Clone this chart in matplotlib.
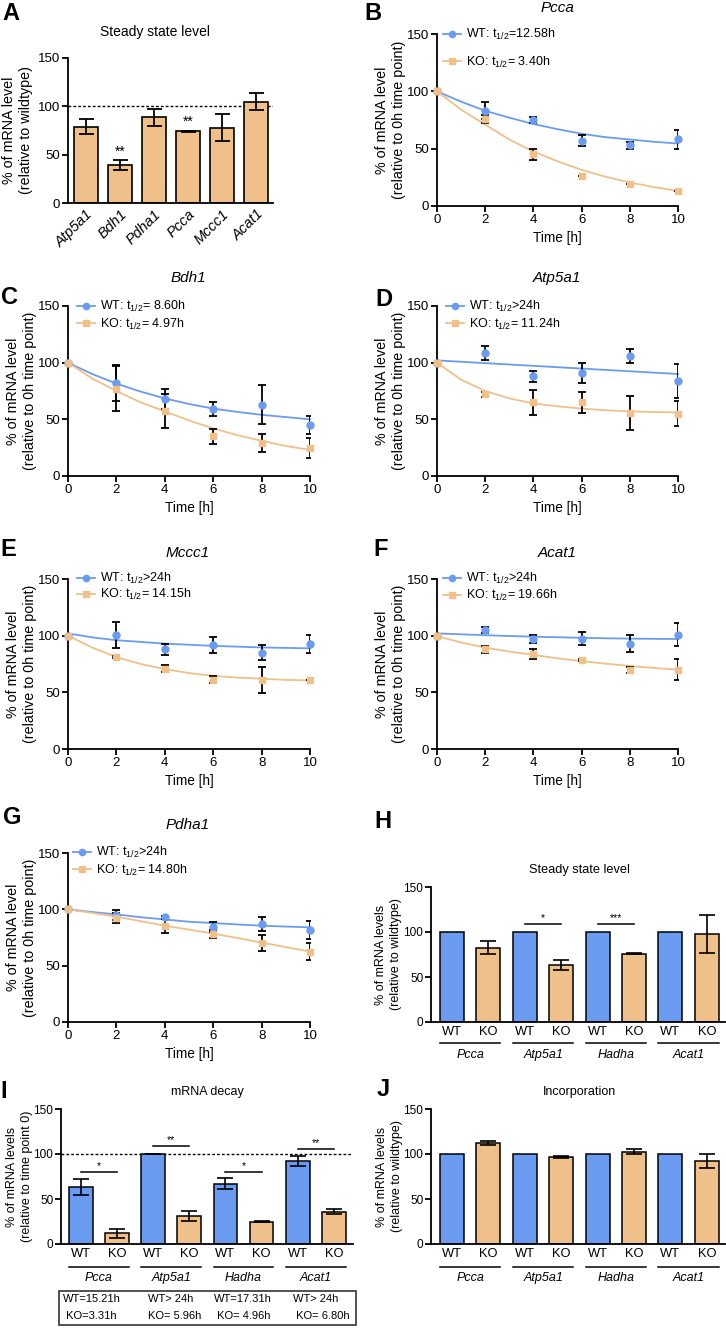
import matplotlib
matplotlib.use('Agg')
import matplotlib.pyplot as plt
from matplotlib.lines import Line2D
from matplotlib.patches import Rectangle

plt.rcParams['font.family'] = 'Liberation Sans'
plt.rcParams['mathtext.fontset'] = 'custom'
plt.rcParams['mathtext.rm'] = 'Liberation Sans'
plt.rcParams['mathtext.it'] = 'Liberation Sans:italic'
plt.rcParams['mathtext.default'] = 'regular'

BLUE = '#6b9bf0'
ORANGE = '#f0c08a'

# A: steady state level (KO relative to wildtype)
steady_genes = ['Atp5a1', 'Bdh1', 'Pdha1', 'Pcca', 'Mccc1', 'Acat1']
steady_mean = [79, 39, 88.5, 74, 78, 105]
steady_err = [7.5, 5, 8.5, 1, 14, 9]
steady_sig = ['', '**', '', '**', '', '']

# B-G: decay time courses
time_h = [0, 2, 4, 6, 8, 10]
fit_h = [0, 1, 2, 3, 4, 5, 6, 7, 8, 9, 10]

pcca_wt = [100, 83, 75, 57, 53, 58]
pcca_wt_err = [0, 7.5, 3, 4.5, 3, 8]
pcca_ko = [100, 76, 45, 26.5, 19.5, 13]
pcca_ko_err = [0, 3.5, 4.5, 0, 0, 0]
pcca_wt_fit = [100, 91, 83, 77, 71.5, 67, 63, 60, 58, 56, 54.5]
pcca_ko_fit = [100, 84, 71, 58, 47.5, 39, 31.5, 25.5, 20.5, 16.5, 13]

bdh1_wt = [100, 82, 68, 59, 63, 45]
bdh1_wt_err = [0, 16, 9, 6, 17, 8]
bdh1_ko = [100, 77, 57, 35, 29, 24.5]
bdh1_ko_err = [0, 20, 15, 6.5, 8, 9]
bdh1_wt_fit = [100, 90, 81.5, 74.5, 68.5, 63.5, 59.5, 56.5, 54, 52, 50]
bdh1_ko_fit = [100, 86, 75, 65, 57, 49, 42, 36, 31, 26.5, 23]

atp_wt = [100, 108.5, 88, 91, 106, 84]
atp_wt_err = [0, 6, 5, 9, 6.5, 15]
atp_ko = [100, 72, 65, 65, 55.5, 55]
atp_ko_err = [0, 2, 11, 9, 15, 11]
atp_wt_fit = [102, 100.8, 99.6, 98.4, 97.2, 96, 94.8, 93.6, 92.4, 91.2, 90]
atp_ko_fit = [100, 85, 75, 68.5, 64, 61.5, 59.5, 58, 57, 56.5, 56]

mccc_wt = [100, 100.5, 88, 92, 85, 93]
mccc_wt_err = [0, 11.5, 5, 7, 6.5, 8]
mccc_ko = [100, 81, 71, 61, 61, 61]
mccc_ko_err = [0, 1, 3, 3, 11.5, 0]
mccc_wt_fit = [102, 98.5, 96, 94.5, 93, 92, 91, 90.3, 89.6, 89.2, 88.8]
mccc_ko_fit = [100, 89.5, 81, 75, 70.5, 67, 64.5, 63, 62, 61, 60.5]

acat_wt = [100, 105, 97, 97.5, 93, 101]
acat_wt_err = [0, 3, 3.5, 6, 7.5, 10]
acat_ko = [100, 88, 84, 78.5, 70, 70]
acat_ko_err = [0, 3, 4.5, 1, 2.5, 9.5]
acat_wt_fit = [102, 101.2, 100.4, 99.7, 99.1, 98.6, 98.1, 97.7, 97.4, 97.2, 97]
acat_ko_fit = [99.5, 94, 89.5, 86, 83, 80, 77.5, 75.3, 73.3, 71.5, 70]

pdha_wt = [100, 95, 93, 84, 87, 82]
pdha_wt_err = [0, 4.5, 1.5, 4.5, 6.5, 8]
pdha_ko = [100, 92, 85, 78.5, 70, 62.5]
pdha_ko_err = [0, 4.5, 6, 3.5, 7, 7.5]
pdha_wt_fit = [100, 97.6, 95.5, 93, 91, 89, 87.8, 86.6, 85.5, 84.7, 84]
pdha_ko_fit = [100, 96.8, 93.5, 89.5, 85.5, 82, 78.5, 74.5, 70.5, 66.5, 62.5]

# H-J: paired WT / KO bars
pair_genes = ['Pcca', 'Atp5a1', 'Hadha', 'Acat1']
pair_ticks = ['WT', 'KO'] * 4

steady_wt = [100, 100, 100, 100]
steady_ko = [82.5, 63, 76, 98]
steady_ko_err = [7, 5.5, 0.5, 21]
steady_pair_sig = ['', '*', '***', '']
steady_pair_sig_y = [0, 109, 109, 0]

decay_wt = [63.5, 100, 67, 92.5]
decay_wt_err = [8.5, 0.5, 6, 5.5]
decay_ko = [12, 31, 25, 36]
decay_ko_err = [5, 5.5, 1, 2.5]
decay_sig = ['*', '**', '*', '**']
decay_sig_y = [80.5, 109, 80.5, 106]
decay_wt_half = ['WT=15.21h', 'WT> 24h', 'WT=17.31h', 'WT> 24h']
decay_ko_half = [' KO=3.31h', 'KO= 5.96h', ' KO= 4.96h', ' KO= 6.80h']

incorp_wt = [100, 100, 100, 100]
incorp_ko = [112, 97, 102.5, 92.5]
incorp_ko_err = [2.5, 1, 3, 7.5]

W, H = 726, 1328
fig = plt.figure(figsize=(W / 100, H / 100), dpi=100)


def px_axes(l, t, r, b):
    return fig.add_axes([l / W, 1 - b / H, (r - l) / W, (b - t) / H])


def style(ax, size=9.5):
    for s in ['top', 'right']:
        ax.spines[s].set_visible(False)
    for s in ['left', 'bottom']:
        ax.spines[s].set_linewidth(1.3)
    ax.tick_params(direction='out', length=4, width=1.3, labelsize=size, pad=1.5)
    ax.set_ylim(0, 150)
    ax.set_yticks([0, 50, 100, 150])


def ylab(ax, text, off_px, size):
    ax.set_ylabel(text, fontsize=size, linespacing=1.3)
    w = ax.get_position().width * W
    ax.yaxis.set_label_coords(-off_px / w, 0.5)


def ftext(x, y, s, **kw):
    fig.text(x / W, 1 - y / H, s, **kw)


def decay(ax, wt, wt_err, ko, ko_err, wt_fit, ko_fit, labels, leg):
    style(ax)
    ax.plot(fit_h, wt_fit, color=BLUE, lw=1.3, clip_on=False)
    ax.plot(fit_h, ko_fit, color=ORANGE, lw=1.3, clip_on=False)
    ax.errorbar(time_h, wt, yerr=wt_err, fmt='none', ecolor='black',
                elinewidth=1.3, capsize=3, capthick=1.3)
    ax.errorbar(time_h, ko, yerr=ko_err, fmt='none', ecolor='black',
                elinewidth=1.3, capsize=3, capthick=1.3)
    ax.plot(time_h, wt, 'o', color=BLUE, ms=5, clip_on=False, zorder=4)
    ax.plot(time_h, ko, 's', color=ORANGE, ms=4.8, clip_on=False, zorder=4)
    ax.set_xlim(0, 10)
    ax.set_xticks([0, 2, 4, 6, 8, 10])
    ax.set_xlabel('Time [h]', fontsize=9.8)
    h = ax.get_position().height * H
    ax.xaxis.set_label_coords(0.5, -25 / h)
    ylab(ax, '% of mRNA level\n(relative to 0h time point)', 31, 10.3)
    hl, row1, sp = leg
    handles = [Line2D([], [], color=BLUE, marker='o', ms=4.5, lw=1.3),
               Line2D([], [], color=ORANGE, marker='s', ms=4.3, lw=1.3)]
    ax.legend(handles, labels, loc='upper left', frameon=False, fontsize=9,
              bbox_to_anchor=(hl / W, 1 - (row1 - 8) / H),
              bbox_transform=fig.transFigure, borderpad=0, borderaxespad=0,
              handlelength=1.4, handletextpad=0.45, labelspacing=sp)


def paired(ax, wt, wt_err, ko, ko_err, line_px, name_px):
    style(ax, size=8.5)
    xw = [0, 2, 4, 6]
    xk = [1, 3, 5, 7]
    ax.bar(xw, wt, 0.66, color=BLUE, edgecolor='black', lw=1.1, zorder=2)
    ax.bar(xk, ko, 0.66, color=ORANGE, edgecolor='black', lw=1.1, zorder=2)
    if wt_err is not None:
        ax.errorbar(xw, wt, yerr=wt_err, fmt='none', ecolor='black',
                    elinewidth=1.2, capsize=6, capthick=1.2, zorder=3)
    ax.errorbar(xk, ko, yerr=ko_err, fmt='none', ecolor='black',
                elinewidth=1.2, capsize=6, capthick=1.2, zorder=3)
    ax.set_xticks(range(8))
    ax.set_xticklabels(pair_ticks, fontsize=9.3)
    ax.tick_params(axis='x', length=0, pad=3)
    pos = ax.get_position()
    bot = (1 - pos.y0) * H
    hpx = pos.height * H
    tr = ax.get_xaxis_transform()
    for i, g in enumerate(pair_genes):
        ax.plot([2 * i - 0.33, 2 * i + 1.33], [-(line_px - bot) / hpx] * 2,
                color='black', lw=1.1, transform=tr, clip_on=False)
        ax.text(2 * i + 0.5, -(name_px - bot) / hpx, g, transform=tr,
                ha='center', va='center', fontsize=9, style='italic')


def sig_bars(ax, sig, sig_y):
    for i, (s, y) in enumerate(zip(sig, sig_y)):
        if not s:
            continue
        ax.plot([2 * i, 2 * i + 1], [y, y], color='black', lw=1.1)
        ax.text(2 * i + 0.5, y + 0.5, s, ha='center', va='bottom', fontsize=7.5)


# ---- A ----
axA = px_axes(68, 58, 273, 203)
style(axA)
xa = list(range(len(steady_genes)))
axA.bar(xa, steady_mean, 0.68, color=ORANGE, edgecolor='black', lw=1.2, zorder=2)
axA.errorbar(xa, steady_mean, yerr=steady_err, fmt='none', ecolor='black',
             elinewidth=1.3, capsize=5.4, capthick=1.3, zorder=3)
for x, m, e, s in zip(xa, steady_mean, steady_err, steady_sig):
    if s:
        axA.text(x, m + e + 1.5, s, ha='center', va='bottom', fontsize=10)
axA.axhline(100, color='black', lw=1, ls=(0, (2, 1.5)), zorder=1)
axA.set_xlim(-0.53, 5.5)
axA.set_xticks(xa)
axA.set_xticklabels(steady_genes, rotation=45, ha='right', rotation_mode='anchor',
                    style='italic', fontsize=10.5)
axA.tick_params(axis='x', length=0, pad=3)
ylab(axA, '% of mRNA level\n(relative to wildtype)', 35, 10.3)
ftext(155, 32, 'Steady state level', ha='center', va='center', fontsize=10)

# ---- B-G ----
decay(px_axes(437, 34, 678, 206), pcca_wt, pcca_wt_err, pcca_ko, pcca_ko_err,
      pcca_wt_fit, pcca_ko_fit,
      ['WT: t$_{1/2}$=12.58h', 'KO: t$_{1/2}$= 3.40h'], (443, 35, 1.0))
decay(px_axes(68, 306, 310, 476), bdh1_wt, bdh1_wt_err, bdh1_ko, bdh1_ko_err,
      bdh1_wt_fit, bdh1_ko_fit,
      ['WT: t$_{1/2}$= 8.60h', 'KO: t$_{1/2}$= 4.97h'], (77, 307, 0.2))
decay(px_axes(437, 306, 678, 476), atp_wt, atp_wt_err, atp_ko, atp_ko_err,
      atp_wt_fit, atp_ko_fit,
      ['WT: t$_{1/2}$>24h', 'KO: t$_{1/2}$= 11.24h'], (446, 307, 0.2))
decay(px_axes(68, 579, 310, 749), mccc_wt, mccc_wt_err, mccc_ko, mccc_ko_err,
      mccc_wt_fit, mccc_ko_fit,
      ['WT: t$_{1/2}$>24h', 'KO: t$_{1/2}$= 14.15h'], (77, 579, 0.1))
decay(px_axes(437, 579, 678, 749), acat_wt, acat_wt_err, acat_ko, acat_ko_err,
      acat_wt_fit, acat_ko_fit,
      ['WT: t$_{1/2}$>24h', 'KO: t$_{1/2}$= 19.66h'], (443, 579, 0.15))
decay(px_axes(68, 853, 310, 1022), pdha_wt, pdha_wt_err, pdha_ko, pdha_ko_err,
      pdha_wt_fit, pdha_ko_fit,
      ['WT: t$_{1/2}$>24h', 'KO: t$_{1/2}$= 14.80h'], (73, 853, 0.2))

for x, y, s in [(557, 8, 'Pcca'), (188, 278, 'Bdh1'), (557, 278, 'Atp5a1'),
                (188, 553, 'Mccc1'), (557, 553, 'Acat1'), (188, 825, 'Pdha1')]:
    ftext(x, y, s, ha='center', va='center', fontsize=11, style='italic')

# ---- H ----
axH = px_axes(431, 887, 725, 1022)
paired(axH, steady_wt, None, steady_ko, steady_ko_err, 1043, 1055)
sig_bars(axH, steady_pair_sig, steady_pair_sig_y)
axH.set_xlim(-0.58, 7.5)
ylab(axH, '% of mRNA levels\n(relative to wildtype)', 29, 9)
ftext(579, 870, 'Steady state level', ha='center', va='center', fontsize=9.2)

# ---- I ----
axI = px_axes(61, 1109, 353, 1244)
paired(axI, decay_wt, decay_wt_err, decay_ko, decay_ko_err, 1267, 1278)
sig_bars(axI, decay_sig, decay_sig_y)
axI.axhline(100, color='black', lw=1, ls=(0, (2, 1.5)), zorder=1)
axI.set_xlim(-0.55, 7.53)
ylab(axI, '% of mRNA levels\n(relative to time point 0)', 28, 9)
ftext(207, 1092, 'mRNA decay', ha='center', va='center', fontsize=9)
fig.patches.append(Rectangle((59 / W, 1 - 1325 / H), 297 / W, 34 / H,
                             transform=fig.transFigure, fill=False,
                             edgecolor='#444444', lw=1.3))
for xw_, xk_, wtxt, ktxt in zip([63, 148, 214, 293], [63, 148, 214, 293],
                                decay_wt_half, decay_ko_half):
    ftext(xw_, 1299, wtxt, ha='left', va='center', fontsize=8)
    ftext(xk_, 1316, ktxt, ha='left', va='center', fontsize=8)

# ---- J ----
axJ = px_axes(431, 1109, 725, 1244)
paired(axJ, incorp_wt, None, incorp_ko, incorp_ko_err, 1267, 1278)
axJ.set_xlim(-0.58, 7.5)
ylab(axJ, '% of mRNA levels\n(relative to wildtype)', 28, 9)
ftext(579, 1092, 'Incorporation', ha='center', va='center', fontsize=9)

# panel letters
for x, y, s in [(11, 13, 'A'), (373, 13, 'B'), (9, 298, 'C'), (384, 299, 'D'),
                (8, 550, 'E'), (381, 550, 'F'), (12, 817, 'G'), (383, 822, 'H'),
                (4, 1092, 'I'), (383, 1090, 'J')]:
    ftext(x, y, s, ha='center', va='center', fontsize=17, fontweight='bold')

fig.savefig('out.png', dpi=100)
